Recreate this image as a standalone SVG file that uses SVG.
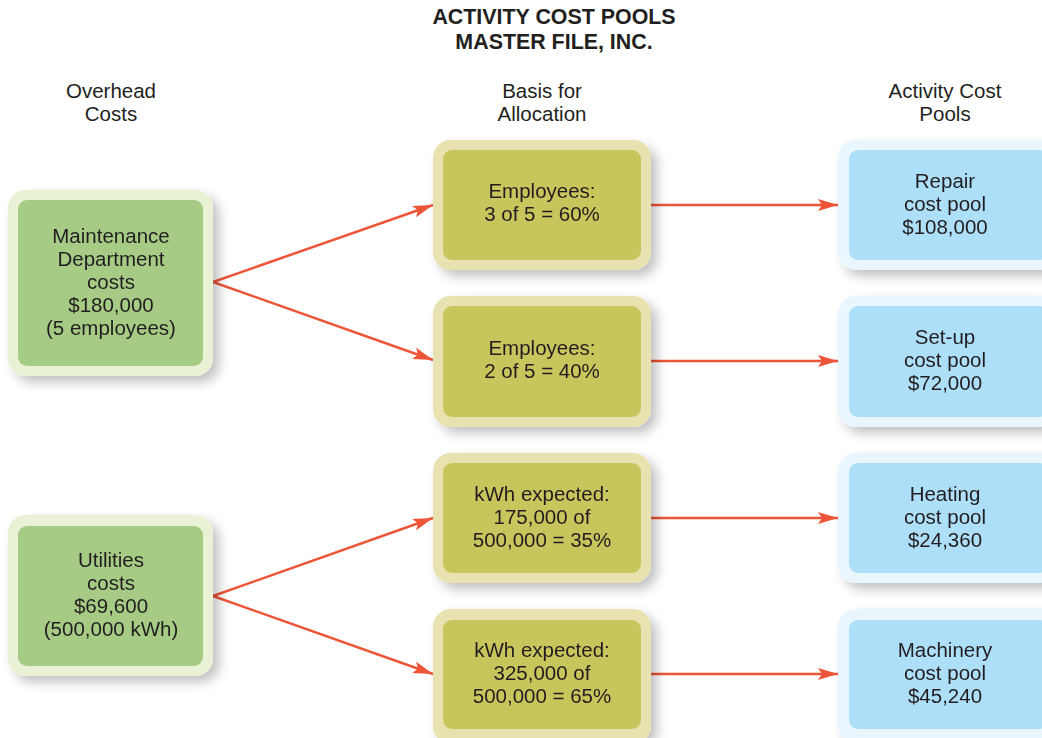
<svg xmlns="http://www.w3.org/2000/svg" width="1042" height="738" viewBox="0 0 1042 738">
<defs>
<filter id="sh" x="-20%" y="-20%" width="150%" height="150%">
<feGaussianBlur in="SourceAlpha" stdDeviation="6"/>
<feOffset dx="6" dy="6" result="b"/>
<feComponentTransfer><feFuncA type="linear" slope="0.25"/></feComponentTransfer>
<feMerge><feMergeNode/><feMergeNode in="SourceGraphic"/></feMerge>
</filter>
<marker id="ah" viewBox="0 0 20 12" refX="20" refY="6" markerWidth="20" markerHeight="12" markerUnits="userSpaceOnUse" orient="auto">
<path d="M0,0 L20,6 L0,12 L4,6 Z" fill="#ee5538"/>
</marker>
</defs>
<style>
text{font-family:"Liberation Sans",Arial,sans-serif;fill:#231f20;font-size:20.5px;text-anchor:middle}
.t{font-weight:bold;font-size:21.4px}
.go{fill:#eaf2d5}.gi{fill:#a6cb84}
.yo{fill:#e8e2b0}.yi{fill:#c8c55c}
.bo{fill:#e9f6fd}.bi{fill:#addff8}
.c{stroke:#ee5538;stroke-width:2.5;fill:none;marker-end:url(#ah)}
</style>
<rect width="1042" height="738" fill="#ffffff"/>
<g id="title">
<text class="t" x="554" y="24">ACTIVITY COST POOLS</text>
<text class="t" x="554" y="49">MASTER FILE, INC.</text>
</g>
<g id="headers">
<text x="111" y="98">Overhead</text><text x="111" y="121">Costs</text>
<text x="542" y="98">Basis for</text><text x="542" y="121">Allocation</text>
<text x="945" y="98">Activity Cost</text><text x="945" y="121">Pools</text>
</g>
<g id="connectors">
<line class="c" x1="213" y1="282" x2="433" y2="205"/>
<line class="c" x1="213" y1="282" x2="433" y2="360"/>
<line class="c" x1="213" y1="596" x2="433" y2="518"/>
<line class="c" x1="213" y1="596" x2="433" y2="674"/>
<line class="c" x1="651" y1="205" x2="838" y2="205"/>
<line class="c" x1="651" y1="361" x2="838" y2="361"/>
<line class="c" x1="651" y1="518" x2="838" y2="518"/>
<line class="c" x1="651" y1="674" x2="838" y2="674"/>
</g>
<g id="maintenance" filter="url(#sh)">
<rect class="go" x="8" y="190" width="205" height="186" rx="18"/>
<rect class="gi" x="18" y="200" width="185" height="166" rx="9"/>
<text x="111" y="243">Maintenance</text><text x="111" y="266">Department</text><text x="111" y="289">costs</text><text x="111" y="312">$180,000</text><text x="111" y="335">(5 employees)</text>
</g>
<g id="utilities" filter="url(#sh)">
<rect class="go" x="8" y="515" width="205" height="161" rx="18"/>
<rect class="gi" x="18" y="526" width="185" height="140" rx="9"/>
<text x="111" y="567">Utilities</text><text x="111" y="590">costs</text><text x="111" y="613">$69,600</text><text x="111" y="636">(500,000 kWh)</text>
</g>
<g id="basis1" filter="url(#sh)">
<rect class="yo" x="433" y="140" width="218" height="130" rx="18"/>
<rect class="yi" x="443" y="150" width="198" height="110" rx="9"/>
<text x="542" y="198">Employees:</text><text x="542" y="221">3 of 5 = 60%</text>
</g>
<g id="basis2" filter="url(#sh)">
<rect class="yo" x="433" y="296" width="218" height="131" rx="18"/>
<rect class="yi" x="443" y="306" width="198" height="111" rx="9"/>
<text x="542" y="355">Employees:</text><text x="542" y="378">2 of 5 = 40%</text>
</g>
<g id="basis3" filter="url(#sh)">
<rect class="yo" x="433" y="453" width="218" height="130" rx="18"/>
<rect class="yi" x="443" y="463" width="198" height="110" rx="9"/>
<text x="542" y="501">kWh expected:</text><text x="542" y="524">175,000 of</text><text x="542" y="547">500,000 = 35%</text>
</g>
<g id="basis4" filter="url(#sh)">
<rect class="yo" x="433" y="609" width="218" height="135" rx="18"/>
<rect class="yi" x="443" y="620" width="198" height="109" rx="9"/>
<text x="542" y="657">kWh expected:</text><text x="542" y="680">325,000 of</text><text x="542" y="703">500,000 = 65%</text>
</g>
<g id="repair" filter="url(#sh)">
<rect class="bo" x="838" y="140" width="220" height="130" rx="18"/>
<rect class="bi" x="849" y="150" width="200" height="110" rx="9"/>
<text x="945" y="188">Repair</text><text x="945" y="211">cost pool</text><text x="945" y="234">$108,000</text>
</g>
<g id="setup" filter="url(#sh)">
<rect class="bo" x="838" y="296" width="220" height="131" rx="18"/>
<rect class="bi" x="849" y="306" width="200" height="111" rx="9"/>
<text x="945" y="344">Set-up</text><text x="945" y="367">cost pool</text><text x="945" y="390">$72,000</text>
</g>
<g id="heating" filter="url(#sh)">
<rect class="bo" x="838" y="453" width="220" height="130" rx="18"/>
<rect class="bi" x="849" y="463" width="200" height="110" rx="9"/>
<text x="945" y="501">Heating</text><text x="945" y="524">cost pool</text><text x="945" y="547">$24,360</text>
</g>
<g id="machinery" filter="url(#sh)">
<rect class="bo" x="838" y="609" width="220" height="135" rx="18"/>
<rect class="bi" x="849" y="620" width="200" height="109" rx="9"/>
<text x="945" y="657">Machinery</text><text x="945" y="680">cost pool</text><text x="945" y="703">$45,240</text>
</g>
</svg>
